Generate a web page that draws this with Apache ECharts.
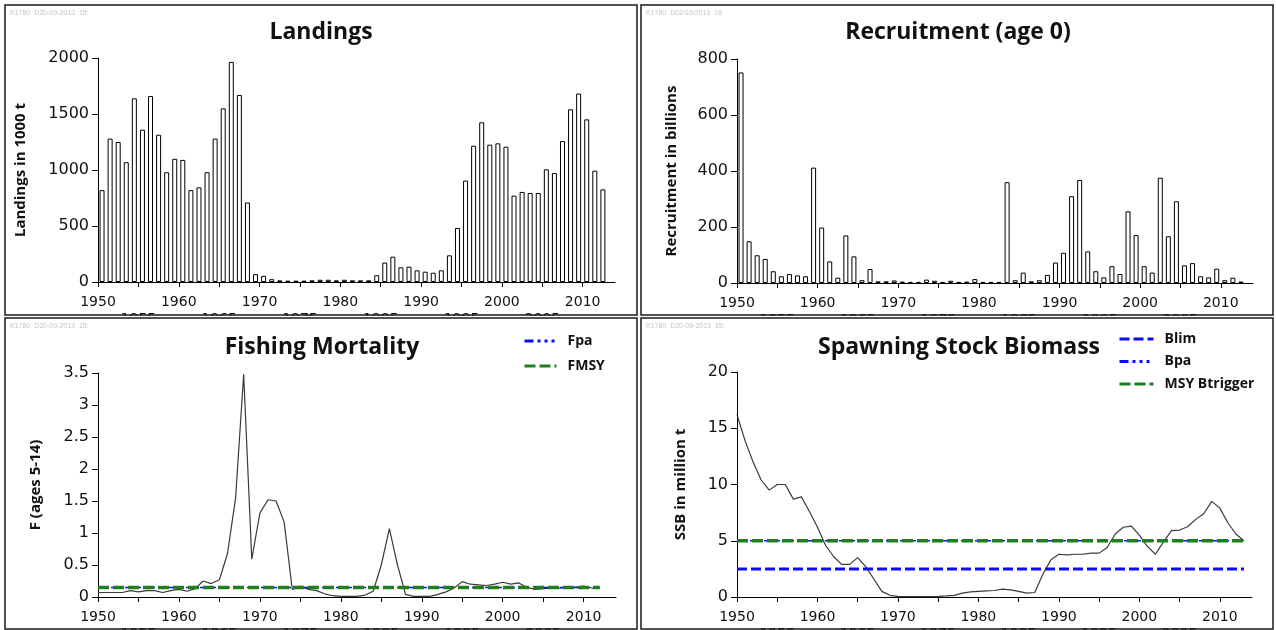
<!DOCTYPE html>
<html><head><meta charset="utf-8">
<script src="https://cdn.jsdelivr.net/npm/echarts@6/dist/echarts.min.js"></script>
<style>html,body{margin:0;padding:0;background:#fff}#c{width:1276px;height:630px}</style>
</head><body><div id="c"></div>
<script>
// ---------- data ----------
const years = [1950,1951,1952,1953,1954,1955,1956,1957,1958,1959,
  1960,1961,1962,1963,1964,1965,1966,1967,1968,1969,
  1970,1971,1972,1973,1974,1975,1976,1977,1978,1979,
  1980,1981,1982,1983,1984,1985,1986,1987,1988,1989,
  1990,1991,1992,1993,1994,1995,1996,1997,1998,1999,
  2000,2001,2002,2003,2004,2005,2006,2007,2008,2009,
  2010,2011,2012,2013];
const xTickYears = [1950,1955,1960,1965,1970,1975,1980,1985,1990,1995,2000,2005,2010];

// Landings (1000 t), 1950-2012
const landings = [820,1280,1250,1070,1640,1360,1660,1315,980,1100,
  1090,820,845,980,1280,1550,1965,1670,710,70,
  55,25,15,12,12,12,15,20,20,15,
  20,15,15,15,60,173,226,131,137,104,
  92,83,104,238,482,905,1217,1426,1226,1238,
  1208,771,804,795,795,1006,973,1259,1542,1682,
  1452,994,827,null];

// Recruitment age 0 (billions), 1950-2012
const recruitment = [752,149,99,86,42,24,32,27,24,412,
  198,77,19,170,95,10,50,6,6,9,
  5,4,4,12,8,4,8,4,5,14,
  4,4,4,360,10,37,6,10,29,73,
  108,310,368,113,42,20,60,32,256,171,
  60,37,376,167,292,63,71,24,20,51,
  10,19,5,null];

// Fishing mortality F (ages 5-14), 1950-2012
const fishingMortality = [0.07,0.07,0.07,0.07,0.10,0.08,0.10,0.10,0.07,0.10,
  0.12,0.09,0.13,0.25,0.21,0.27,0.68,1.55,3.48,0.59,
  1.31,1.52,1.50,1.17,0.12,0.17,0.12,0.10,0.05,0.02,
  0.01,0.01,0.01,0.03,0.09,0.50,1.07,0.50,0.04,0.01,
  0.01,0.01,0.04,0.08,0.14,0.24,0.20,0.19,0.18,0.20,
  0.23,0.20,0.22,0.15,0.12,0.13,0.14,0.14,0.15,0.15,
  0.17,0.14,0.14,null];

// Spawning stock biomass (million t), 1950-2013
const ssb = [16.2,13.9,12.0,10.4,9.5,10.0,10.0,8.7,8.9,7.6,
  6.2,4.6,3.6,2.9,2.9,3.5,2.7,1.6,0.5,0.15,
  0.05,0.03,0.03,0.03,0.04,0.06,0.10,0.15,0.35,0.45,
  0.50,0.55,0.58,0.70,0.63,0.50,0.35,0.40,2.0,3.3,
  3.8,3.75,3.8,3.8,3.9,3.9,4.4,5.6,6.2,6.3,
  5.5,4.5,3.8,4.9,5.9,5.95,6.25,6.9,7.4,8.5,
  7.9,6.6,5.6,5.0];

// reference points
const fpaValue = 0.15, fmsyValue = 0.15;
const blimValue = 2.5, bpaValue = 5.0, msyBtriggerValue = 5.0;
const fRefYears = [1950, 2012];
const bRefYears = [1950, 2013];

// ---------- helpers ----------
const pairs = (vals) => years.map((y, i) => [y, vals[i]]).filter(p => p[1] !== null);
const refLine = (ys, v) => ys.map(y => [y, v]);

const GREEN = '#1f7f1f', BLUE = '#0a0aff', LINE = '#3a3a3a';
const dashGreen = [11, 4], dashBlue = [10, 4], dashDot = [9, 4, 3, 4, 3, 4, 3, 4];

function valueX(gridIndex) {
  return {
    type: 'value', gridIndex, min: 1950, max: 2014, interval: 5,
    axisLine: {show: true, lineStyle: {color: '#000', width: 1}},
    axisTick: {show: true, inside: false, length: 5, customValues: xTickYears, lineStyle: {color: '#000'}},
    axisLabel: {
      customValues: xTickYears, margin: 12, lineHeight: 17,
      color: '#111', fontFamily: 'DejaVu Sans', fontSize: 14,
      formatter: v => (v % 10 === 0 ? String(v) : '\n' + v)
    },
    splitLine: {show: false}
  };
}
function catX(gridIndex) {
  return {type: 'category', gridIndex, data: years, boundaryGap: true, show: false};
}
function valueY(gridIndex, max, interval, name, gap) {
  return {
    type: 'value', gridIndex, min: 0, max, interval,
    name, nameLocation: 'middle', nameRotate: 90, nameGap: gap,
    nameTextStyle: {fontFamily: 'Open Sans', fontWeight: 'bold', fontSize: 15, color: '#111'},
    axisLine: {show: true, lineStyle: {color: '#000', width: 1}},
    axisTick: {show: true, inside: false, length: 6, lineStyle: {color: '#000'}},
    axisLabel: {margin: 9, color: '#111', fontFamily: 'DejaVu Sans', fontSize: 16, formatter: v => String(v)},
    splitLine: {show: false}
  };
}
const titleStyle = {fontFamily: 'Open Sans', fontWeight: 'bold', fontSize: 23, color: '#111'};
const legendBase = {
  orient: 'vertical', itemHeight: 14, selectedMode: false, padding: 0,
  itemStyle: {opacity: 0},
  lineStyle: {width: 3},
  textStyle: {fontFamily: 'Open Sans', fontWeight: 'bold', fontSize: 14, color: '#111', padding: [0, 0, 0, 6]}
};
const barStyle = {color: '#fff', borderColor: '#000', borderWidth: 1};
const wm = (x, y, t) => ({type: 'text', x, y, z: 101, style: {text: t, fill: '#c4c4c4', font: '7px Arial'}});
const gridBase = {outerBoundsMode: 'none', containLabel: false};

const option = {
  animation: false,
  backgroundColor: '#fff',
  title: [
    {text: 'Landings', left: 321, top: 21, textAlign: 'center', padding: 0, textStyle: titleStyle},
    {text: 'Recruitment (age 0)', left: 958, top: 21, textAlign: 'center', padding: 0, textStyle: titleStyle},
    {text: 'Fishing Mortality', left: 322, top: 336, textAlign: 'center', padding: 0, textStyle: titleStyle},
    {text: 'Spawning Stock Biomass', left: 959, top: 336, textAlign: 'center', padding: 0, textStyle: titleStyle}
  ],
  legend: [
    Object.assign({}, legendBase, {data: ['Fpa', 'FMSY'], left: 523, top: 334, itemWidth: 32, itemGap: 11}),
    Object.assign({}, legendBase, {data: ['Blim', 'Bpa', 'MSY Btrigger'], left: 1118, top: 332, itemWidth: 34, itemGap: 8.5})
  ],
  grid: [
    Object.assign({left: 98, top: 58, width: 517, height: 224}, gridBase),
    Object.assign({left: 737, top: 59, width: 516, height: 224}, gridBase),
    Object.assign({left: 98, top: 373, width: 518, height: 224}, gridBase),
    Object.assign({left: 737, top: 372, width: 515, height: 225}, gridBase)
  ],
  xAxis: [valueX(0), catX(0), valueX(1), catX(1), valueX(2), valueX(3)],
  yAxis: [
    valueY(0, 2000, 500, 'Landings in 1000 t', 70),
    valueY(1, 800, 200, 'Recruitment in billions', 58),
    valueY(2, 3.5, 0.5, 'F (ages 5-14)', 55),
    valueY(3, 20, 5, 'SSB in million t', 49)
  ],
  series: [
    {name: 'Landings', type: 'bar', xAxisIndex: 1, yAxisIndex: 0, data: landings, barWidth: 5, itemStyle: barStyle, silent: true},
    {name: 'Recruitment', type: 'bar', xAxisIndex: 3, yAxisIndex: 1, data: recruitment, barWidth: 5, itemStyle: barStyle, silent: true},
    {name: 'F', type: 'line', xAxisIndex: 4, yAxisIndex: 2, data: pairs(fishingMortality), symbol: 'none', lineStyle: {color: LINE, width: 1.2}, silent: true},
    {name: 'Fpa', type: 'line', xAxisIndex: 4, yAxisIndex: 2, data: refLine(fRefYears, fpaValue), symbol: 'none', color: BLUE, lineStyle: {color: BLUE, width: 1.5, type: dashDot}, silent: true},
    {name: 'FMSY', type: 'line', xAxisIndex: 4, yAxisIndex: 2, data: refLine(fRefYears, fmsyValue), symbol: 'none', color: GREEN, lineStyle: {color: GREEN, width: 3.5, type: dashGreen}, silent: true},
    {name: 'SSB', type: 'line', xAxisIndex: 5, yAxisIndex: 3, data: pairs(ssb), symbol: 'none', lineStyle: {color: LINE, width: 1.2}, silent: true},
    {name: 'Blim', type: 'line', xAxisIndex: 5, yAxisIndex: 3, data: refLine(bRefYears, blimValue), symbol: 'none', color: BLUE, lineStyle: {color: BLUE, width: 3, type: dashBlue}, silent: true},
    {name: 'Bpa', type: 'line', xAxisIndex: 5, yAxisIndex: 3, data: refLine(bRefYears, bpaValue), symbol: 'none', color: BLUE, lineStyle: {color: BLUE, width: 1.5, type: dashDot}, silent: true},
    {name: 'MSY Btrigger', type: 'line', xAxisIndex: 5, yAxisIndex: 3, data: refLine(bRefYears, msyBtriggerValue), symbol: 'none', color: GREEN, lineStyle: {color: GREEN, width: 3.5, type: dashGreen}, silent: true}
  ],
  graphic: [
    {type: 'rect', z: 100, shape: {x: 0, y: 316, width: 1276, height: 14}, style: {fill: '#fff'}},
    {type: 'rect', z: 101, shape: {x: 5, y: 5, width: 632, height: 310}, style: {fill: 'none', stroke: '#1a1a1a', lineWidth: 1.5}},
    {type: 'rect', z: 101, shape: {x: 641, y: 5, width: 632, height: 310}, style: {fill: 'none', stroke: '#1a1a1a', lineWidth: 1.5}},
    {type: 'rect', z: 101, shape: {x: 5, y: 318, width: 632, height: 311}, style: {fill: 'none', stroke: '#1a1a1a', lineWidth: 1.5}},
    {type: 'rect', z: 101, shape: {x: 641, y: 318, width: 632, height: 311}, style: {fill: 'none', stroke: '#1a1a1a', lineWidth: 1.5}},
    wm(10, 10, 'K1780  D20-09-2013  15:'),
    wm(646, 10, 'K1780  D02/10/2013  18'),
    wm(10, 323, 'K1780  D20-09-2013  15:'),
    wm(646, 323, 'K1780  D20-09-2013  15:')
  ]
};
const chart = echarts.init(document.getElementById('c'), null, {renderer: 'canvas'});
chart.setOption(option);
</script>
</body></html>
